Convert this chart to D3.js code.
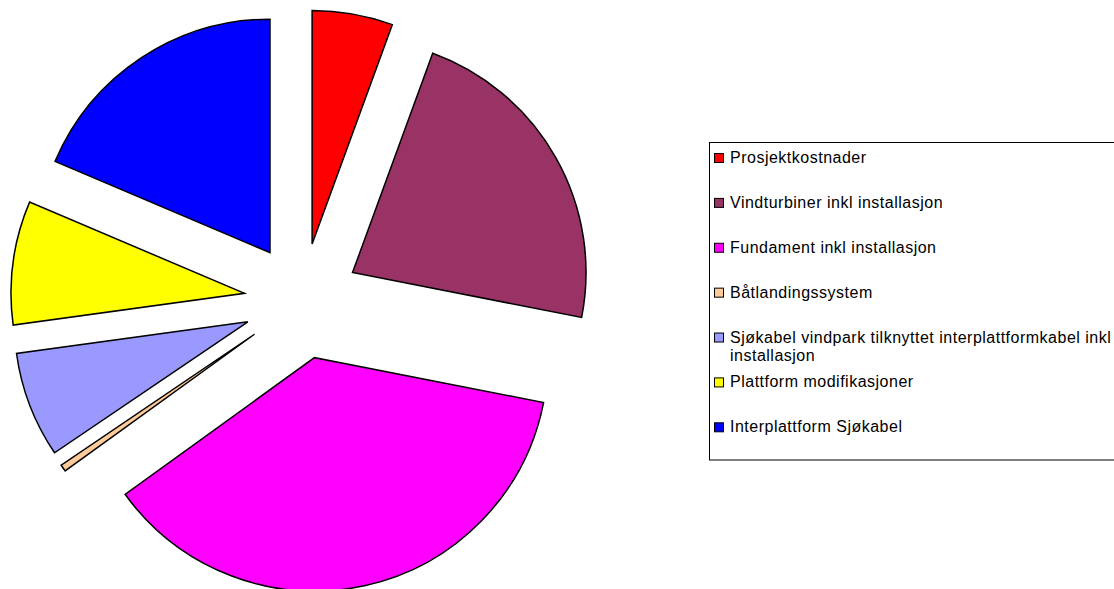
<!DOCTYPE html>
<html>
<head>
<meta charset="utf-8">
<script src="https://cdn.jsdelivr.net/npm/d3@7"></script>
<style>
  html, body { margin: 0; padding: 0; background: #fff; overflow: hidden; }
  svg { display: block; }
</style>
</head>
<body>
<svg id="chart" width="1114" height="589"></svg>
<script>
// Data (share of cost, %)
const categories = [
  "Prosjektkostnader",
  "Vindturbiner inkl installasjon",
  "Fundament inkl installasjon",
  "Båtlandingssystem",
  "Sjøkabel vindpark tilknyttet interplattformkabel inkl installasjon",
  "Plattform modifikasjoner",
  "Interplattform Sjøkabel"
];
const values = [5.58, 22.5, 36.97, 0.47, 7.31, 8.56, 18.61];
const colors = ["#FF0000", "#993366", "#FF00FF", "#FFCC99", "#9999FF", "#FFFF00", "#0000FF"];
const legendLines = [
  ["Prosjektkostnader"],
  ["Vindturbiner inkl installasjon"],
  ["Fundament inkl installasjon"],
  ["Båtlandingssystem"],
  ["Sjøkabel vindpark tilknyttet interplattformkabel inkl", "installasjon"],
  ["Plattform modifikasjoner"],
  ["Interplattform Sjøkabel"]
];

const svg = d3.select("#chart");
const cx = 302, cy = 301, radius = 233.5, explode = 58;

const pie = d3.pie().sort(null).value(d => d.value);
const arc = d3.arc().innerRadius(0).outerRadius(radius);
const data = categories.map((c, i) => ({ name: c, value: values[i], color: colors[i] }));

const g = svg.append("g").attr("transform", `translate(${cx},${cy})`);
g.selectAll("path")
  .data(pie(data))
  .join("path")
  .attr("transform", d => {
    const a = (d.startAngle + d.endAngle) / 2;
    return `translate(${explode * Math.sin(a)},${-explode * Math.cos(a)})`;
  })
  .attr("d", arc)
  .attr("fill", d => d.data.color)
  .attr("stroke", "#000")
  .attr("stroke-width", 1.5)
  .attr("stroke-linejoin", "miter");

// Legend
const legend = svg.append("g");
legend.append("rect")
  .attr("x", 709.5).attr("y", 142.5)
  .attr("width", 440).attr("height", 317.5)
  .attr("fill", "#fff")
  .attr("stroke", "#000")
  .attr("stroke-width", 1);

const rowY = d3.scalePoint().domain(categories).range([153, 422.3]);

const items = legend.selectAll("g.item")
  .data(data)
  .join("g")
  .attr("class", "item")
  .attr("transform", d => `translate(714,${rowY(d.name)})`);

items.append("rect")
  .attr("x", 0.5).attr("y", 0.5)
  .attr("width", 9).attr("height", 9)
  .attr("fill", d => d.color)
  .attr("stroke", "#000")
  .attr("stroke-width", 1);

items.append("text")
  .attr("x", 16)
  .attr("y", 10)
  .attr("font-family", "'Liberation Sans', Arial, sans-serif")
  .attr("font-size", 16)
  .attr("letter-spacing", 0.5)
  .attr("fill", "#000")
  .selectAll("tspan")
  .data((d, i) => legendLines[i])
  .join("tspan")
  .attr("x", 16)
  .attr("dy", (t, j) => j === 0 ? 0 : 18)
  .text(t => t);
</script>
</body>
</html>
